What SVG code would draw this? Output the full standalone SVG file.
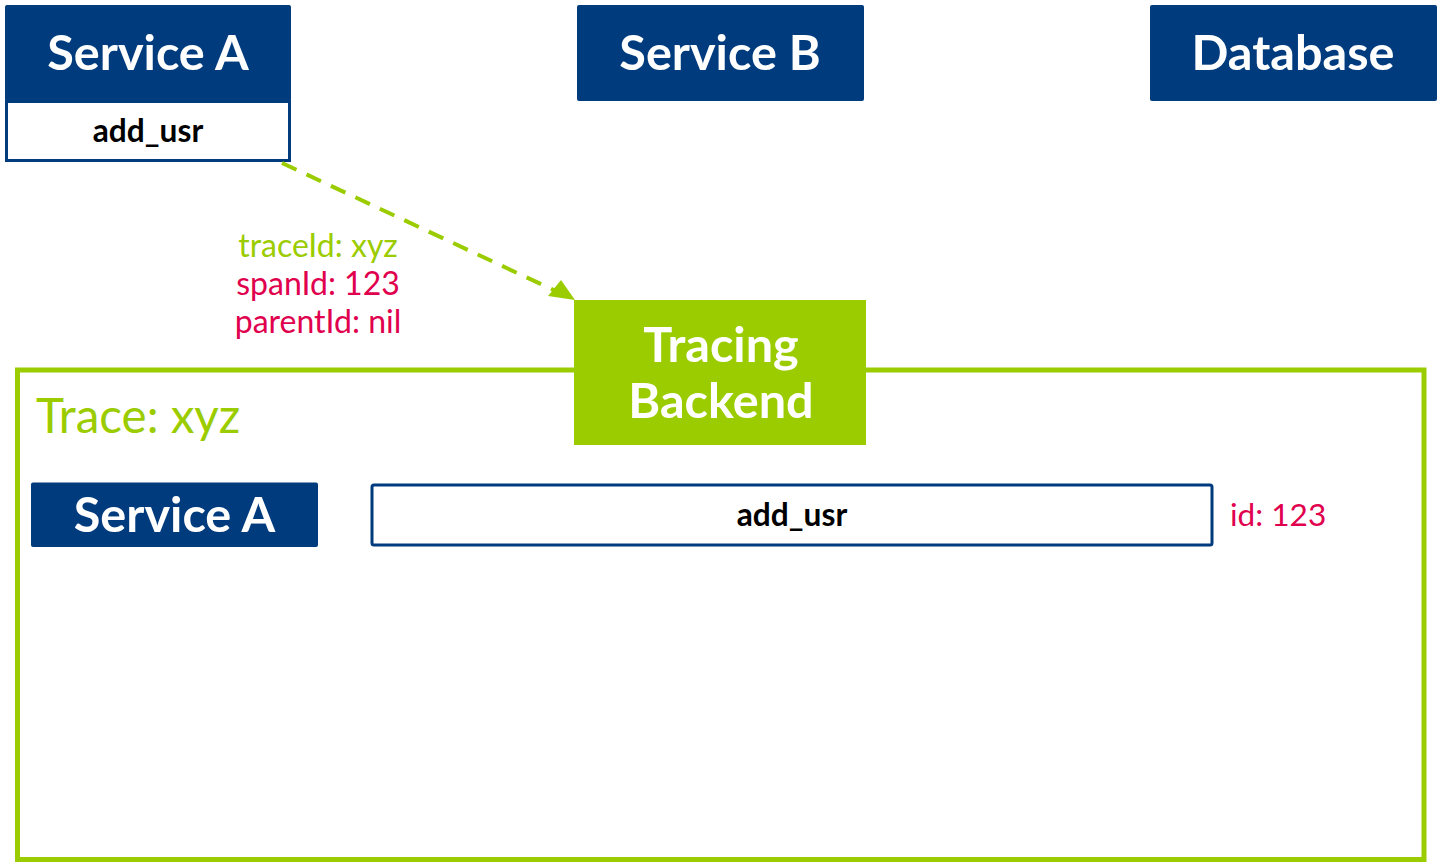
<svg xmlns="http://www.w3.org/2000/svg" width="1441" height="862" viewBox="0 0 1441 862">
<style>
.svc{fill:#003b7d}
.title{font-family:Lato,"Liberation Sans",sans-serif;font-weight:bold;fill:#fff;font-size:48.6px;text-anchor:middle}
.span{fill:#fff;stroke:#003b7d;stroke-width:3}
.spantxt{font-family:Lato,"Liberation Sans",sans-serif;font-weight:bold;fill:#000;font-size:31.7px;text-anchor:middle}
.lbl{font-family:Lato,"Liberation Sans",sans-serif;font-size:32px;text-anchor:middle}
.g{fill:#9bcc00}
.r{fill:#e0004d}
</style>
<rect id="trace-frame" x="17.5" y="370" width="1406.5" height="489.5" fill="#fff" stroke="#9bcc00" stroke-width="5"/>
<g id="service-a">
<rect class="svc" x="5" y="5" width="286" height="96" rx="2"/>
<text class="title" x="148" y="70">Service A</text>
<rect class="span" x="6.5" y="101.5" width="283" height="59"/>
<text class="spantxt" x="148" y="142">add_usr</text>
</g>
<g id="service-b">
<rect class="svc" x="577" y="5" width="287" height="96" rx="2"/>
<text class="title" x="720" y="70">Service B</text>
</g>
<g id="database">
<rect class="svc" x="1150" y="5" width="287" height="96" rx="2"/>
<text class="title" x="1293" y="70">Database</text>
</g>
<g id="connectors">
<path d="M282,163 L575,300" stroke="#9bcc00" stroke-width="4" stroke-dasharray="16,11" fill="none"/>
<path d="M575,300 L548,296 L561,280 z" fill="#9bcc00"/>
</g>
<g id="labels">
<text class="lbl g" x="318" y="257">traceId: xyz</text>
<text class="lbl r" x="318" y="295">spanId: 123</text>
<text class="lbl r" x="318" y="333">parentId: nil</text>
</g>
<g id="tracing-backend">
<rect x="574" y="300" width="292" height="145" fill="#9bcc00"/>
<text class="title" x="721" y="362">Tracing</text>
<text class="title" x="721" y="418">Backend</text>
</g>
<g id="trace">
<text x="36" y="433" font-family="Lato,'Liberation Sans',sans-serif" font-size="47.5" fill="#9bcc00">Trace: xyz</text>
</g>
<g id="trace-service-a">
<rect class="svc" x="31" y="482.5" width="287" height="64.5" rx="2"/>
<text class="title" x="174.5" y="532">Service A</text>
</g>
<g id="trace-span">
<rect class="span" x="372" y="485" width="840" height="60" rx="2"/>
<text class="spantxt" x="792" y="526">add_usr</text>
<text x="1230" y="526" font-family="Lato,'Liberation Sans',sans-serif" font-size="31.6" fill="#e0004d">id: 123</text>
</g>
</svg>
